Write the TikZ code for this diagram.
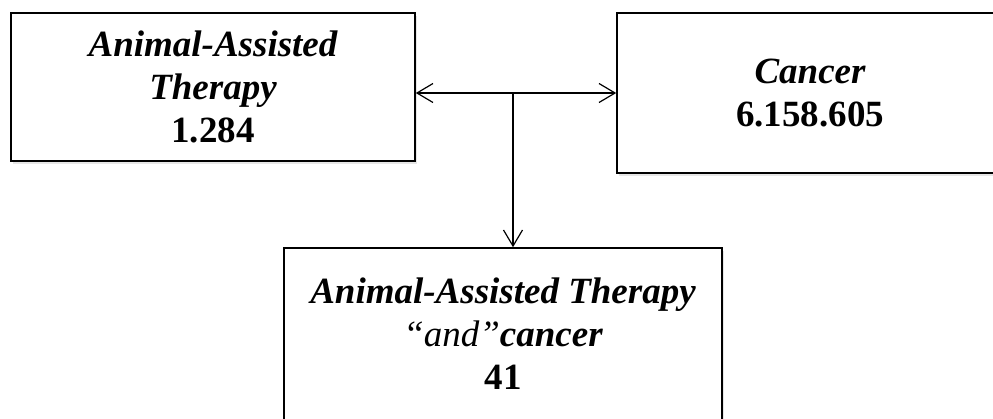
\documentclass[tikz,border=0pt]{standalone}
\usepackage{fontspec}
\setmainfont{Liberation Serif}
\usetikzlibrary{arrows.meta,shadows}

\tikzset{
  box/.style={draw, line width=1.6pt, fill=white, align=center, inner sep=0pt,
    drop shadow={shadow xshift=1.5pt, shadow yshift=-2.5pt, opacity=0.2},
    font=\fontsize{37}{43}\selectfont\bfseries},
  link/.style={line width=1.2pt},
  barb/.tip={Straight Barb[length=16pt,width=19pt]}
}

\begin{document}
\begin{tikzpicture}[x=1pt,y=1pt]
            \useasboundingbox (0,0) rectangle (993,-418);
            \clip (0,0) rectangle (993,-418);

            \node[box, minimum width=404pt, minimum height=148pt] (aat) at (213,-87)
                {\itshape Animal-Assisted\\ \itshape Therapy\\ 1.284};
            \node[box, minimum width=386pt, minimum height=160pt] (cancer) at (810,-93)
                {\itshape Cancer\\ 6.158.605};
            \node[box, minimum width=438pt, minimum height=172pt] (both) at (503,-334)
                {\itshape Animal-Assisted Therapy\\
                 {\mdseries\itshape ``and''}\itshape cancer\\ 41};

            \coordinate (split) at (513,-94);

            \draw[link, barb-barb] (aat.east |- cancer.west) -- (cancer.west);
            \draw[link, -barb] (split) -- (split |- both.north);
        \end{tikzpicture}
\end{document}
